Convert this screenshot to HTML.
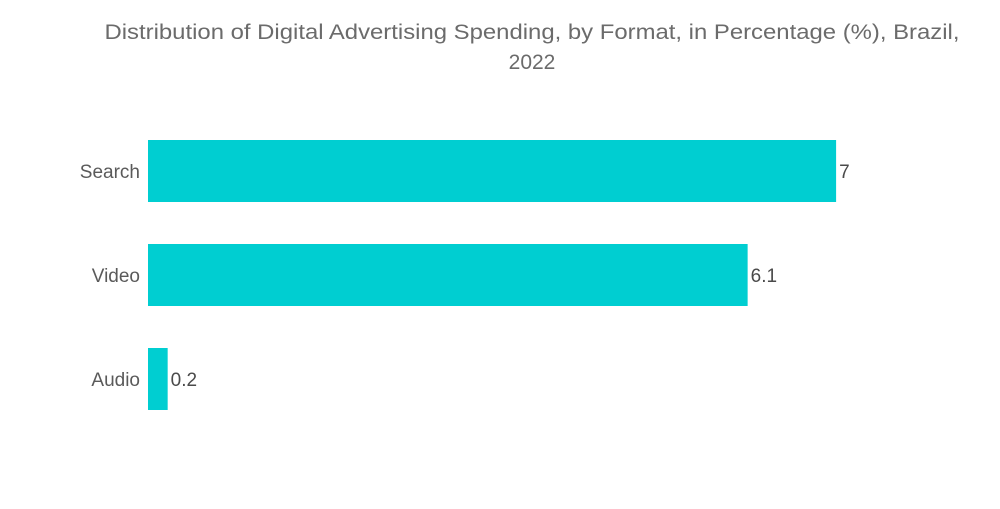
<!DOCTYPE html>
<html><head><meta charset="utf-8"><style>
html,body{margin:0;padding:0;background:#fff;}
body{width:1000px;height:504px;overflow:hidden;font-family:"Liberation Sans",sans-serif;}
</style></head><body>
<svg id="chart" width="1000" height="504" xmlns="http://www.w3.org/2000/svg">
<g fill="#6b6b6b" font-size="21" text-anchor="middle">
<text x="532" y="39" textLength="855" lengthAdjust="spacingAndGlyphs">Distribution of Digital Advertising Spending, by Format, in Percentage (%), Brazil,</text>
<text x="532" y="69">2022</text>
</g>
<g id="bars"></g>
</svg>
<script>
const categories = ["Search", "Video", "Audio"];
const values = [7, 6.1, 0.2];
const valueLabels = ["7", "6.1", "0.2"];
const x0 = 148, pxPerUnit = 98.3, top0 = 140, step = 104, barH = 62;
const xScale = v => x0 + v * pxPerUnit;
const g = document.getElementById('bars');
const ns = 'http://www.w3.org/2000/svg';
categories.forEach((c, i) => {
  const y = top0 + i * step;
  const r = document.createElementNS(ns, 'rect');
  r.setAttribute('x', x0); r.setAttribute('y', y);
  r.setAttribute('width', xScale(values[i]) - x0); r.setAttribute('height', barH);
  r.setAttribute('fill', '#00ced1');
  
  
  g.appendChild(r);
  const t = document.createElementNS(ns, 'text');
  t.setAttribute('x', 140); t.setAttribute('y', y + barH / 2 + 7);
  t.setAttribute('text-anchor', 'end'); t.setAttribute('font-size', '19'); t.setAttribute('fill', '#5a5a5a');
  t.textContent = c;
  
  
  g.appendChild(t);
  const v = document.createElementNS(ns, 'text');
  v.setAttribute('x', xScale(values[i]) + 3); v.setAttribute('y', y + barH / 2 + 7);
  v.setAttribute('font-size', '19'); v.setAttribute('fill', '#4a4a4a');
  v.textContent = valueLabels[i];
  
  
  g.appendChild(v);
});
</script>
</body></html>
